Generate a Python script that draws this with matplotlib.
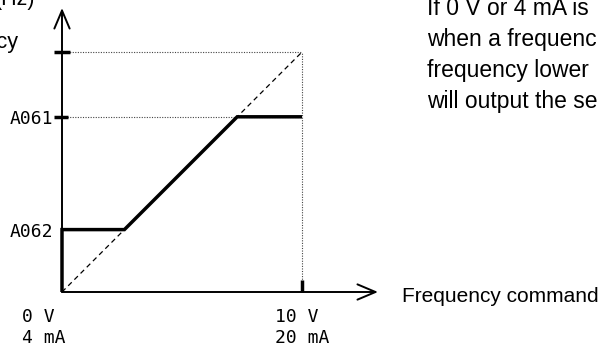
import matplotlib
matplotlib.use('Agg')
import matplotlib.pyplot as plt

# --- Data (command in V scale, output frequency in same relative units) ---

v_max = 10.0          # 10 V / 20 mA
f_max = 10.0          # maximum frequency
a062 = 2.6            # start frequency (A062)
a061 = 7.3            # end frequency (A061)

cmd = [0, 0, a062, a061, v_max]
out = [0, a062, a062, a061, a061]

x_volt = ['0 V', '10 V']
x_curr = ['4 mA', '20 mA']
x_ticks = [0, v_max]
y_labels = ['A062', 'A061']
y_ticks = [a062, a061]

note = ['If 0 V or 4 mA is', 'when a frequenc', 'frequency lower',
        'will output the se']

# --- Layout: one axes over the whole figure, 24 px per unit ---

PX = 24.0
X0, Y0 = 62, 292       # pixel position of the origin
W, H = 600, 349

fig = plt.figure(figsize=(W / 100, H / 100), dpi=100)
ax = fig.add_axes([0, 0, 1, 1])
ax.set_xlim(-X0 / PX, (W - X0) / PX)
ax.set_ylim(-(H - Y0) / PX, Y0 / PX)
ax.axis('off')


def px(x, y):
    return (x - X0) / PX, (Y0 - y) / PX


mono = 'DejaVu Sans Mono'
sans = 'Liberation Sans'

# reference lines
dot = dict(color='#444444', lw=0.8, dashes=(1, 1.3))
ax.plot([0, v_max], [f_max, f_max], **dot)
ax.plot([v_max, v_max], [0, f_max], **dot)
ax.plot([0, v_max], [a061, a061], **dot)
ax.plot([0, v_max], [0, f_max], color='black', lw=0.9, dashes=(4, 3))

# axes with open arrow heads
arrow = dict(arrowstyle='->,head_length=1.3,head_width=0.55',
             mutation_scale=10, lw=1.4, color='black',
             shrinkA=0, shrinkB=0)
ax.annotate('', xy=px(X0, 8), xytext=(0, 0), arrowprops=arrow)
ax.annotate('', xy=px(378, Y0), xytext=(0, 0), arrowprops=arrow)

# ticks
ax.plot([-0.33, 0.33], [f_max, f_max], color='black', lw=2.5,
        solid_capstyle='butt')
ax.plot([-0.33, 0.25], [a061, a061], color='black', lw=2.5,
        solid_capstyle='butt')
ax.plot([v_max, v_max], [0, 0.5], color='black', lw=2.5,
        solid_capstyle='butt')

# output frequency characteristic
ax.plot(cmd, out, color='black', lw=2.5, solid_capstyle='butt',
        solid_joinstyle='miter')

# --- Text ---

for lab, yv in zip(y_labels, y_ticks):
    ax.text(px(53, 0)[0], yv - 0.08, lab, ha='right', va='center',
            fontsize=13, family=mono)

for volt, curr, left in zip(x_volt, x_curr, [22, 275]):
    ax.text(*px(left, 322), volt, ha='left', va='baseline',
            fontsize=13, family=mono)
    ax.text(*px(left, 343), curr, ha='left', va='baseline',
            fontsize=13, family=mono)

ax.text(*px(402, 302), 'Frequency command', ha='left', va='baseline',
        fontsize=15, family=sans)

ax.text(*px(35, 5), '(Hz)', ha='right', va='baseline', fontsize=15.5,
        family=sans)
ax.text(*px(18, 48), 'Output frequency', ha='right', va='baseline',
        fontsize=15.5, family=sans)

for i, line in enumerate(note):
    ax.text(*px(427, 15 + 31 * i), line, ha='left', va='baseline',
            fontsize=16.5, family=sans)

fig.savefig('out.png', dpi=100)
